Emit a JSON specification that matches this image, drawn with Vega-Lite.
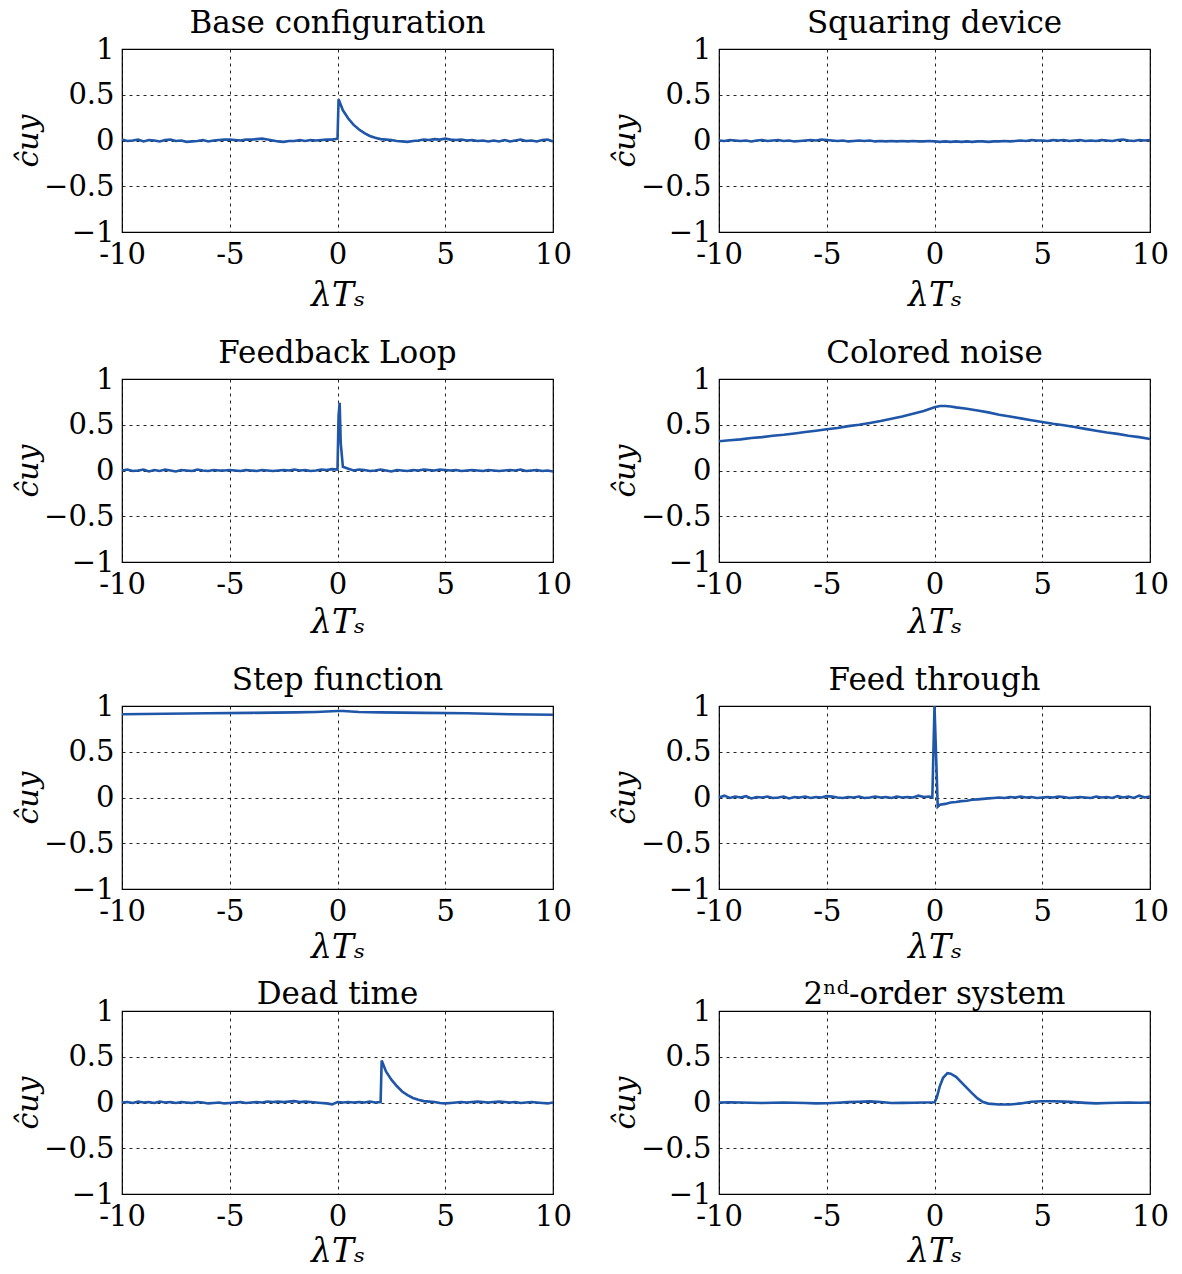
{
"$schema": "https://vega.github.io/schema/vega-lite/v6.json",
"padding": {"left": 12, "top": 7, "right": 5, "bottom": 2},
"background": "white",
"datasets": {
"base": [{"x":-10,"y":0.01},{"x":-9.75,"y":-0.005},{"x":-9.5,"y":0},{"x":-9.25,"y":0.01},{"x":-9,"y":-0.01},{"x":-8.75,"y":0.005},{"x":-8.5,"y":0},{"x":-8.25,"y":-0.01},{"x":-8,"y":0.005},{"x":-7.75,"y":0.01},{"x":-7.5,"y":-0.005},{"x":-7.25,"y":0},{"x":-7,"y":-0.015},{"x":-6.75,"y":-0.01},{"x":-6.5,"y":-0.005},{"x":-6.25,"y":0.005},{"x":-6,"y":-0.01},{"x":-5.75,"y":0},{"x":-5.5,"y":0.005},{"x":-5.25,"y":0.01},{"x":-5,"y":0.01},{"x":-4.75,"y":0.005},{"x":-4.5,"y":0},{"x":-4.25,"y":0.01},{"x":-4,"y":0.01},{"x":-3.75,"y":0.015},{"x":-3.5,"y":0.02},{"x":-3.25,"y":0.01},{"x":-3,"y":0},{"x":-2.75,"y":-0.01},{"x":-2.5,"y":-0.015},{"x":-2.25,"y":-0.005},{"x":-2,"y":-0.005},{"x":-1.75,"y":0.005},{"x":-1.5,"y":-0.005},{"x":-1.25,"y":0.005},{"x":-1,"y":0},{"x":-0.75,"y":0.005},{"x":-0.5,"y":0.01},{"x":-0.25,"y":0.01},{"x":0,"y":0.02},{"x":0.05,"y":0.45},{"x":0.1,"y":0.42},{"x":0.25,"y":0.33},{"x":0.5,"y":0.24},{"x":0.75,"y":0.17},{"x":1,"y":0.12},{"x":1.25,"y":0.08},{"x":1.5,"y":0.05},{"x":1.75,"y":0.03},{"x":2,"y":0.015},{"x":2.25,"y":0.01},{"x":2.5,"y":0.005},{"x":2.75,"y":-0.005},{"x":3,"y":-0.01},{"x":3.25,"y":-0.015},{"x":3.5,"y":-0.005},{"x":3.75,"y":0},{"x":4,"y":0.01},{"x":4.25,"y":0.005},{"x":4.5,"y":0.015},{"x":4.75,"y":0.01},{"x":5,"y":0.02},{"x":5.25,"y":0.01},{"x":5.5,"y":0.005},{"x":5.75,"y":0.01},{"x":6,"y":0},{"x":6.25,"y":0.005},{"x":6.5,"y":-0.005},{"x":6.75,"y":0},{"x":7,"y":-0.01},{"x":7.25,"y":0},{"x":7.5,"y":-0.01},{"x":7.75,"y":0.005},{"x":8,"y":-0.01},{"x":8.25,"y":0},{"x":8.5,"y":0.01},{"x":8.75,"y":-0.005},{"x":9,"y":0},{"x":9.25,"y":-0.01},{"x":9.5,"y":0.005},{"x":9.75,"y":0.01},{"x":10,"y":-0.01}],
"sq": [{"x":-10,"y":0},{"x":-9.75,"y":-0.005},{"x":-9.5,"y":0.005},{"x":-9.25,"y":0},{"x":-9,"y":-0.005},{"x":-8.75,"y":0},{"x":-8.5,"y":-0.01},{"x":-8.25,"y":0},{"x":-8,"y":0.005},{"x":-7.75,"y":-0.005},{"x":-7.5,"y":0},{"x":-7.25,"y":0.005},{"x":-7,"y":-0.005},{"x":-6.75,"y":0},{"x":-6.5,"y":-0.01},{"x":-6.25,"y":-0.005},{"x":-6,"y":0},{"x":-5.75,"y":0.005},{"x":-5.5,"y":0},{"x":-5.25,"y":0.01},{"x":-5,"y":0.005},{"x":-4.75,"y":0},{"x":-4.5,"y":-0.005},{"x":-4.25,"y":0},{"x":-4,"y":-0.01},{"x":-3.75,"y":-0.005},{"x":-3.5,"y":0},{"x":-3.25,"y":-0.005},{"x":-3,"y":0},{"x":-2.75,"y":-0.01},{"x":-2.5,"y":-0.005},{"x":-2.25,"y":-0.01},{"x":-2,"y":-0.005},{"x":-1.75,"y":-0.01},{"x":-1.5,"y":-0.005},{"x":-1.25,"y":-0.01},{"x":-1,"y":-0.005},{"x":-0.75,"y":-0.01},{"x":-0.5,"y":-0.01},{"x":-0.25,"y":-0.005},{"x":0,"y":-0.01},{"x":0.25,"y":-0.015},{"x":0.5,"y":-0.01},{"x":0.75,"y":-0.015},{"x":1,"y":-0.01},{"x":1.25,"y":-0.015},{"x":1.5,"y":-0.01},{"x":1.75,"y":-0.015},{"x":2,"y":-0.01},{"x":2.25,"y":-0.01},{"x":2.5,"y":-0.015},{"x":2.75,"y":-0.01},{"x":3,"y":-0.01},{"x":3.25,"y":-0.005},{"x":3.5,"y":-0.01},{"x":3.75,"y":-0.005},{"x":4,"y":0},{"x":4.25,"y":-0.005},{"x":4.5,"y":0.005},{"x":4.75,"y":0},{"x":5,"y":0},{"x":5.25,"y":-0.005},{"x":5.5,"y":0.005},{"x":5.75,"y":0},{"x":6,"y":0.005},{"x":6.25,"y":-0.005},{"x":6.5,"y":0},{"x":6.75,"y":0.005},{"x":7,"y":-0.005},{"x":7.25,"y":0},{"x":7.5,"y":-0.005},{"x":7.75,"y":0.005},{"x":8,"y":0},{"x":8.25,"y":-0.005},{"x":8.5,"y":0.005},{"x":8.75,"y":0.01},{"x":9,"y":0},{"x":9.25,"y":-0.005},{"x":9.5,"y":0.005},{"x":9.75,"y":0},{"x":10,"y":0.005}],
"fb": [{"x":-10,"y":0},{"x":-9.75,"y":0.01},{"x":-9.5,"y":-0.005},{"x":-9.25,"y":0},{"x":-9,"y":0.01},{"x":-8.75,"y":-0.01},{"x":-8.5,"y":0.005},{"x":-8.25,"y":-0.005},{"x":-8,"y":0.01},{"x":-7.75,"y":0},{"x":-7.5,"y":-0.01},{"x":-7.25,"y":0.005},{"x":-7,"y":0},{"x":-6.75,"y":-0.005},{"x":-6.5,"y":0.01},{"x":-6.25,"y":0},{"x":-6,"y":-0.005},{"x":-5.75,"y":0.005},{"x":-5.5,"y":0},{"x":-5.25,"y":0},{"x":-5,"y":0.005},{"x":-4.75,"y":0},{"x":-4.5,"y":-0.005},{"x":-4.25,"y":0.005},{"x":-4,"y":0},{"x":-3.75,"y":-0.005},{"x":-3.5,"y":0.005},{"x":-3.25,"y":0},{"x":-3,"y":-0.005},{"x":-2.75,"y":0},{"x":-2.5,"y":0.005},{"x":-2.25,"y":0},{"x":-2,"y":0.01},{"x":-1.75,"y":0},{"x":-1.5,"y":0.005},{"x":-1.25,"y":-0.005},{"x":-1,"y":0},{"x":-0.75,"y":0.01},{"x":-0.5,"y":0.005},{"x":-0.25,"y":0.015},{"x":0,"y":0.01},{"x":0.05,"y":0.6},{"x":0.1,"y":0.74},{"x":0.15,"y":0.3},{"x":0.25,"y":0.04},{"x":0.5,"y":0.02},{"x":0.75,"y":0},{"x":1,"y":0.01},{"x":1.25,"y":0.005},{"x":1.5,"y":-0.005},{"x":1.75,"y":0},{"x":2,"y":0.01},{"x":2.25,"y":0},{"x":2.5,"y":-0.01},{"x":2.75,"y":0.005},{"x":3,"y":0},{"x":3.25,"y":-0.005},{"x":3.5,"y":0.005},{"x":3.75,"y":0},{"x":4,"y":0.01},{"x":4.25,"y":0.005},{"x":4.5,"y":0},{"x":4.75,"y":0.01},{"x":5,"y":0.005},{"x":5.25,"y":0},{"x":5.5,"y":0.005},{"x":5.75,"y":-0.005},{"x":6,"y":0},{"x":6.25,"y":0.005},{"x":6.5,"y":0},{"x":6.75,"y":-0.005},{"x":7,"y":0.005},{"x":7.25,"y":0},{"x":7.5,"y":-0.005},{"x":7.75,"y":0},{"x":8,"y":0.005},{"x":8.25,"y":0},{"x":8.5,"y":0.01},{"x":8.75,"y":-0.005},{"x":9,"y":0},{"x":9.25,"y":0.005},{"x":9.5,"y":-0.005},{"x":9.75,"y":0},{"x":10,"y":-0.01}],
"cn": [{"x":-10,"y":0.32},{"x":-9.5,"y":0.33},{"x":-9,"y":0.34},{"x":-8.5,"y":0.355},{"x":-8,"y":0.365},{"x":-7.5,"y":0.38},{"x":-7,"y":0.39},{"x":-6.5,"y":0.405},{"x":-6,"y":0.42},{"x":-5.5,"y":0.435},{"x":-5,"y":0.45},{"x":-4.5,"y":0.465},{"x":-4,"y":0.485},{"x":-3.5,"y":0.5},{"x":-3,"y":0.52},{"x":-2.5,"y":0.54},{"x":-2,"y":0.565},{"x":-1.5,"y":0.59},{"x":-1,"y":0.62},{"x":-0.5,"y":0.65},{"x":0,"y":0.69},{"x":0.25,"y":0.705},{"x":0.5,"y":0.705},{"x":0.75,"y":0.7},{"x":1,"y":0.69},{"x":1.5,"y":0.675},{"x":2,"y":0.655},{"x":2.5,"y":0.635},{"x":3,"y":0.61},{"x":3.5,"y":0.59},{"x":4,"y":0.57},{"x":4.5,"y":0.55},{"x":5,"y":0.53},{"x":5.5,"y":0.51},{"x":6,"y":0.495},{"x":6.5,"y":0.475},{"x":7,"y":0.455},{"x":7.5,"y":0.435},{"x":8,"y":0.415},{"x":8.5,"y":0.4},{"x":9,"y":0.38},{"x":9.5,"y":0.365},{"x":10,"y":0.345}],
"stp": [{"x":-10,"y":0.91},{"x":-8,"y":0.915},{"x":-6,"y":0.92},{"x":-4,"y":0.925},{"x":-2,"y":0.93},{"x":-1,"y":0.935},{"x":0,"y":0.945},{"x":0.25,"y":0.945},{"x":1,"y":0.935},{"x":2,"y":0.93},{"x":4,"y":0.925},{"x":6,"y":0.92},{"x":8,"y":0.91},{"x":10,"y":0.905}],
"ft": [{"x":-10,"y":0},{"x":-9.75,"y":0.02},{"x":-9.5,"y":-0.005},{"x":-9.25,"y":0.01},{"x":-9,"y":0},{"x":-8.75,"y":0.015},{"x":-8.5,"y":-0.01},{"x":-8.25,"y":0.005},{"x":-8,"y":0},{"x":-7.75,"y":0.01},{"x":-7.5,"y":-0.005},{"x":-7.25,"y":0},{"x":-7,"y":0.01},{"x":-6.75,"y":-0.01},{"x":-6.5,"y":0.005},{"x":-6.25,"y":0},{"x":-6,"y":0.01},{"x":-5.75,"y":-0.005},{"x":-5.5,"y":0.005},{"x":-5.25,"y":0},{"x":-5,"y":0.015},{"x":-4.75,"y":0.01},{"x":-4.5,"y":0},{"x":-4.25,"y":-0.005},{"x":-4,"y":0.005},{"x":-3.75,"y":0},{"x":-3.5,"y":0.01},{"x":-3.25,"y":-0.005},{"x":-3,"y":0},{"x":-2.75,"y":0.01},{"x":-2.5,"y":0},{"x":-2.25,"y":0.005},{"x":-2,"y":-0.005},{"x":-1.75,"y":0.01},{"x":-1.5,"y":0},{"x":-1.25,"y":0.005},{"x":-1,"y":0},{"x":-0.75,"y":0.02},{"x":-0.5,"y":0.005},{"x":-0.25,"y":0.01},{"x":-0.1,"y":0},{"x":0,"y":1},{"x":0.15,"y":-0.1},{"x":0.25,"y":-0.08},{"x":0.5,"y":-0.07},{"x":0.75,"y":-0.055},{"x":1,"y":-0.05},{"x":1.25,"y":-0.04},{"x":1.5,"y":-0.035},{"x":1.75,"y":-0.025},{"x":2,"y":-0.02},{"x":2.25,"y":-0.015},{"x":2.5,"y":-0.01},{"x":2.75,"y":-0.005},{"x":3,"y":0},{"x":3.25,"y":-0.005},{"x":3.5,"y":0.005},{"x":3.75,"y":0},{"x":4,"y":0.01},{"x":4.25,"y":0},{"x":4.5,"y":0.005},{"x":4.75,"y":-0.005},{"x":5,"y":0},{"x":5.25,"y":0.005},{"x":5.5,"y":0},{"x":5.75,"y":0.01},{"x":6,"y":0.005},{"x":6.25,"y":-0.005},{"x":6.5,"y":0},{"x":6.75,"y":0.005},{"x":7,"y":0},{"x":7.25,"y":-0.005},{"x":7.5,"y":0.01},{"x":7.75,"y":0},{"x":8,"y":0.005},{"x":8.25,"y":-0.005},{"x":8.5,"y":0.015},{"x":8.75,"y":0},{"x":9,"y":0.01},{"x":9.25,"y":-0.005},{"x":9.5,"y":0.02},{"x":9.75,"y":0},{"x":10,"y":0.01}],
"dt": [{"x":-10,"y":0},{"x":-9.75,"y":0.005},{"x":-9.5,"y":-0.005},{"x":-9.25,"y":0.01},{"x":-9,"y":0},{"x":-8.75,"y":0.005},{"x":-8.5,"y":-0.005},{"x":-8.25,"y":0.01},{"x":-8,"y":0},{"x":-7.75,"y":0.005},{"x":-7.5,"y":-0.005},{"x":-7.25,"y":0.005},{"x":-7,"y":0},{"x":-6.75,"y":-0.005},{"x":-6.5,"y":0.005},{"x":-6.25,"y":0},{"x":-6,"y":-0.01},{"x":-5.75,"y":-0.005},{"x":-5.5,"y":0},{"x":-5.25,"y":-0.01},{"x":-5,"y":-0.005},{"x":-4.75,"y":0},{"x":-4.5,"y":0.005},{"x":-4.25,"y":-0.005},{"x":-4,"y":0},{"x":-3.75,"y":0.005},{"x":-3.5,"y":0},{"x":-3.25,"y":0.01},{"x":-3,"y":0.005},{"x":-2.75,"y":0.01},{"x":-2.5,"y":0.005},{"x":-2.25,"y":0.01},{"x":-2,"y":0.015},{"x":-1.75,"y":0.005},{"x":-1.5,"y":0.01},{"x":-1.25,"y":0.005},{"x":-1,"y":0},{"x":-0.75,"y":-0.005},{"x":-0.5,"y":-0.01},{"x":-0.25,"y":-0.02},{"x":0,"y":0.005},{"x":0.25,"y":0},{"x":0.5,"y":0.005},{"x":0.75,"y":0},{"x":1,"y":0.005},{"x":1.25,"y":0},{"x":1.5,"y":0.01},{"x":1.75,"y":0},{"x":2,"y":0.005},{"x":2.05,"y":0.46},{"x":2.1,"y":0.43},{"x":2.25,"y":0.34},{"x":2.5,"y":0.25},{"x":2.75,"y":0.18},{"x":3,"y":0.12},{"x":3.25,"y":0.08},{"x":3.5,"y":0.05},{"x":3.75,"y":0.03},{"x":4,"y":0.015},{"x":4.25,"y":0.01},{"x":4.5,"y":0.005},{"x":4.75,"y":-0.005},{"x":5,"y":-0.01},{"x":5.25,"y":-0.005},{"x":5.5,"y":0},{"x":5.75,"y":0.005},{"x":6,"y":0},{"x":6.25,"y":0.005},{"x":6.5,"y":0.01},{"x":6.75,"y":0.005},{"x":7,"y":0},{"x":7.25,"y":0.005},{"x":7.5,"y":0.01},{"x":7.75,"y":0.005},{"x":8,"y":0},{"x":8.25,"y":0.005},{"x":8.5,"y":-0.005},{"x":8.75,"y":0},{"x":9,"y":0.005},{"x":9.25,"y":0},{"x":9.5,"y":-0.005},{"x":9.75,"y":-0.01},{"x":10,"y":0}],
"so": [{"x":-10,"y":0},{"x":-9.5,"y":0.002},{"x":-9,"y":0},{"x":-8.5,"y":-0.003},{"x":-8,"y":-0.005},{"x":-7.5,"y":-0.002},{"x":-7,"y":0},{"x":-6.5,"y":-0.003},{"x":-6,"y":-0.006},{"x":-5.5,"y":-0.01},{"x":-5,"y":-0.008},{"x":-4.5,"y":-0.002},{"x":-4,"y":0.004},{"x":-3.5,"y":0.008},{"x":-3,"y":0.012},{"x":-2.5,"y":0.006},{"x":-2,"y":-0.006},{"x":-1.5,"y":-0.004},{"x":-1,"y":-0.002},{"x":-0.5,"y":0},{"x":0,"y":0.002},{"x":0.1,"y":0.05},{"x":0.25,"y":0.18},{"x":0.4,"y":0.27},{"x":0.6,"y":0.32},{"x":0.75,"y":0.315},{"x":1,"y":0.28},{"x":1.25,"y":0.22},{"x":1.5,"y":0.16},{"x":1.75,"y":0.1},{"x":2,"y":0.045},{"x":2.25,"y":0.005},{"x":2.5,"y":-0.012},{"x":3,"y":-0.022},{"x":3.5,"y":-0.022},{"x":4,"y":-0.01},{"x":4.5,"y":0.008},{"x":5,"y":0.014},{"x":5.5,"y":0.014},{"x":6,"y":0.01},{"x":6.5,"y":0.004},{"x":7,"y":-0.004},{"x":7.5,"y":-0.01},{"x":8,"y":-0.006},{"x":8.5,"y":-0.002},{"x":9,"y":0},{"x":9.5,"y":-0.002},{"x":10,"y":0}]
},
"columns": 2,
"spacing": {"row": 13, "column": 36},
"concat": [
{"title": {"text": "Base configuration"}, "width": 431, "height": 183, "data": {"name": "base"}, "mark": "line",
 "encoding": {"x": {"field": "x", "type": "quantitative", "scale": {"domain": [-10, 10], "nice": false}, "axis": {"values": [-10, -5, 0, 5, 10], "titlePadding": 10, "titleLineHeight": 11}, "title": ["λTₛ", " "]},
  "y": {"field": "y", "type": "quantitative", "scale": {"domain": [-1, 1], "nice": false}, "axis": {"values": [-1, -0.5, 0, 0.5, 1]}, "title": "ĉuy"}}},
{"title": {"text": "Squaring device"}, "width": 431, "height": 183, "data": {"name": "sq"}, "mark": "line",
 "encoding": {"x": {"field": "x", "type": "quantitative", "scale": {"domain": [-10, 10], "nice": false}, "axis": {"values": [-10, -5, 0, 5, 10], "titlePadding": 10, "titleLineHeight": 11}, "title": ["λTₛ", " "]},
  "y": {"field": "y", "type": "quantitative", "scale": {"domain": [-1, 1], "nice": false}, "axis": {"values": [-1, -0.5, 0, 0.5, 1]}, "title": "ĉuy"}}},
{"title": {"text": "Feedback Loop"}, "width": 431, "height": 183, "data": {"name": "fb"}, "mark": "line",
 "encoding": {"x": {"field": "x", "type": "quantitative", "scale": {"domain": [-10, 10], "nice": false}, "axis": {"values": [-10, -5, 0, 5, 10], "titlePadding": 7, "titleLineHeight": 11}, "title": ["λTₛ", " "]},
  "y": {"field": "y", "type": "quantitative", "scale": {"domain": [-1, 1], "nice": false}, "axis": {"values": [-1, -0.5, 0, 0.5, 1]}, "title": "ĉuy"}}},
{"title": {"text": "Colored noise"}, "width": 431, "height": 183, "data": {"name": "cn"}, "mark": "line",
 "encoding": {"x": {"field": "x", "type": "quantitative", "scale": {"domain": [-10, 10], "nice": false}, "axis": {"values": [-10, -5, 0, 5, 10], "titlePadding": 7, "titleLineHeight": 11}, "title": ["λTₛ", " "]},
  "y": {"field": "y", "type": "quantitative", "scale": {"domain": [-1, 1], "nice": false}, "axis": {"values": [-1, -0.5, 0, 0.5, 1]}, "title": "ĉuy"}}},
{"title": {"text": "Step function"}, "width": 431, "height": 183, "data": {"name": "stp"}, "mark": "line",
 "encoding": {"x": {"field": "x", "type": "quantitative", "scale": {"domain": [-10, 10], "nice": false}, "axis": {"values": [-10, -5, 0, 5, 10], "titlePadding": 5}, "title": "λTₛ"},
  "y": {"field": "y", "type": "quantitative", "scale": {"domain": [-1, 1], "nice": false}, "axis": {"values": [-1, -0.5, 0, 0.5, 1]}, "title": "ĉuy"}}},
{"title": {"text": "Feed through"}, "width": 431, "height": 183, "data": {"name": "ft"}, "mark": "line",
 "encoding": {"x": {"field": "x", "type": "quantitative", "scale": {"domain": [-10, 10], "nice": false}, "axis": {"values": [-10, -5, 0, 5, 10], "titlePadding": 5}, "title": "λTₛ"},
  "y": {"field": "y", "type": "quantitative", "scale": {"domain": [-1, 1], "nice": false}, "axis": {"values": [-1, -0.5, 0, 0.5, 1]}, "title": "ĉuy"}}},
{"title": {"text": "Dead time", "offset": -14}, "width": 431, "height": 183, "data": {"name": "dt"}, "mark": "line",
 "encoding": {"x": {"field": "x", "type": "quantitative", "scale": {"domain": [-10, 10], "nice": false}, "axis": {"values": [-10, -5, 0, 5, 10], "titlePadding": 4}, "title": "λTₛ"},
  "y": {"field": "y", "type": "quantitative", "scale": {"domain": [-1, 1], "nice": false}, "axis": {"values": [-1, -0.5, 0, 0.5, 1]}, "title": "ĉuy"}}},
{"title": {"text": "2ⁿᵈ-order system", "offset": -14}, "width": 431, "height": 183, "data": {"name": "so"}, "mark": "line",
 "encoding": {"x": {"field": "x", "type": "quantitative", "scale": {"domain": [-10, 10], "nice": false}, "axis": {"values": [-10, -5, 0, 5, 10], "titlePadding": 4}, "title": "λTₛ"},
  "y": {"field": "y", "type": "quantitative", "scale": {"domain": [-1, 1], "nice": false}, "axis": {"values": [-1, -0.5, 0, 0.5, 1]}, "title": "ĉuy"}}}
],
"config": {
 "font": "DejaVu Serif",
 "view": {"stroke": "black", "strokeWidth": 1.2},
 "axis": {"grid": true, "gridColor": "black", "gridDash": [3, 4], "gridOpacity": 0.85, "gridWidth": 1, "domain": false, "ticks": false,
  "labelFontSize": 29, "titleFontSize": 29, "labelColor": "black", "titleColor": "black", "labelFont": "DejaVu Serif", "titleFont": "DejaVu Serif",
  "titleFontWeight": "normal", "labelFlush": false, "labelOverlap": false, "labelPadding": 8},
 "axisX": {"labelExpr": "replace(datum.label, '−', '-')", "titleFontStyle": "italic", "titleFontSize": 33},
 "axisY": {"format": "~g", "titleFontStyle": "italic", "titlePadding": 0, "labelPadding": 8, "titleFontSize": 30},
 "title": {"fontSize": 31, "fontWeight": "normal", "font": "DejaVu Serif", "color": "black", "offset": -5},
 "line": {"color": "#1f56a8", "strokeWidth": 2.6}
}
}
